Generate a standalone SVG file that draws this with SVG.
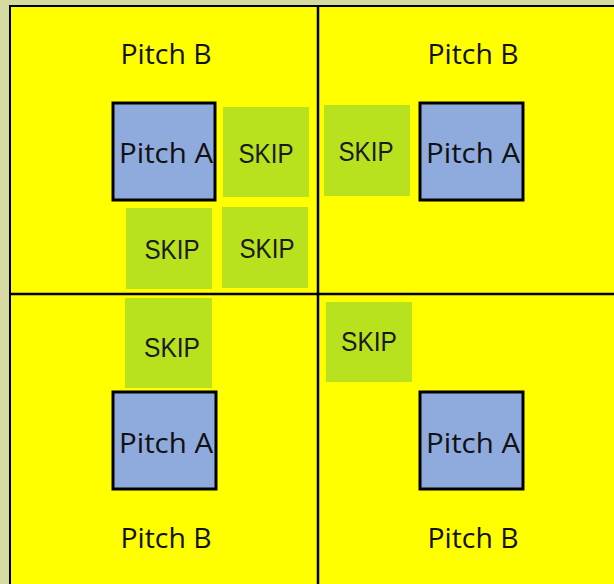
<svg xmlns="http://www.w3.org/2000/svg" width="614" height="584" viewBox="0 0 614 584">
<style>
.pa{fill:#8FAADC;stroke:#000;stroke-width:3}
.sk{fill:#B8E21E}
.tp{font-family:"Open Sans","Noto Sans",sans-serif;font-size:27px;fill:#111;text-anchor:middle}
.ts{font-family:"Liberation Sans",Arial,sans-serif;font-size:27px;fill:#1a1a1a;text-anchor:middle}
.ln{stroke:#000;stroke-width:2.5;fill:none}
</style>
<rect x="0" y="0" width="614" height="584" fill="#D5DAA0"/>
<rect id="field" x="10" y="6" width="606" height="580" fill="#FFFF00" stroke="#000" stroke-width="2"/>
<g id="dividers">
<line class="ln" x1="318" y1="6" x2="318" y2="584"/>
<line class="ln" x1="10" y1="294" x2="614" y2="294"/>
</g>
<g id="pitchB-tl"><text class="tp" x="166" y="64" textLength="91" lengthAdjust="spacingAndGlyphs">Pitch B</text></g>
<g id="pitchB-tr"><text class="tp" x="473" y="64" textLength="91" lengthAdjust="spacingAndGlyphs">Pitch B</text></g>
<g id="pitchB-bl"><text class="tp" x="166" y="548" textLength="91" lengthAdjust="spacingAndGlyphs">Pitch B</text></g>
<g id="pitchB-br"><text class="tp" x="473" y="548" textLength="91" lengthAdjust="spacingAndGlyphs">Pitch B</text></g>

<g id="skip1"><rect class="sk" x="223" y="107" width="86" height="90"/><text class="ts" x="266" y="163" textLength="55" lengthAdjust="spacingAndGlyphs">SKIP</text></g>
<g id="skip2"><rect class="sk" x="126" y="208" width="86" height="81"/><text class="ts" x="172" y="259" textLength="55" lengthAdjust="spacingAndGlyphs">SKIP</text></g>
<g id="skip3"><rect class="sk" x="222" y="207" width="86" height="81"/><text class="ts" x="267" y="258" textLength="55" lengthAdjust="spacingAndGlyphs">SKIP</text></g>
<g id="skip4"><rect class="sk" x="324" y="105" width="86" height="91"/><text class="ts" x="366" y="161" textLength="55" lengthAdjust="spacingAndGlyphs">SKIP</text></g>
<g id="skip5"><rect class="sk" x="125" y="298" width="87" height="90"/><text class="ts" x="172" y="357" textLength="56" lengthAdjust="spacingAndGlyphs">SKIP</text></g>
<g id="skip6"><rect class="sk" x="326" y="302" width="86" height="80"/><text class="ts" x="369" y="351" textLength="56" lengthAdjust="spacingAndGlyphs">SKIP</text></g>

<g id="pitchA-tl"><rect class="pa" x="113" y="103" width="102" height="97"/><text class="tp" x="166" y="163" textLength="94" lengthAdjust="spacingAndGlyphs">Pitch A</text></g>
<g id="pitchA-tr"><rect class="pa" x="420" y="103" width="103" height="97"/><text class="tp" x="473" y="163" textLength="94" lengthAdjust="spacingAndGlyphs">Pitch A</text></g>
<g id="pitchA-bl"><rect class="pa" x="113" y="392" width="103" height="97"/><text class="tp" x="166" y="453" textLength="94" lengthAdjust="spacingAndGlyphs">Pitch A</text></g>
<g id="pitchA-br"><rect class="pa" x="420" y="392" width="103" height="97"/><text class="tp" x="473" y="453" textLength="94" lengthAdjust="spacingAndGlyphs">Pitch A</text></g>
</svg>
